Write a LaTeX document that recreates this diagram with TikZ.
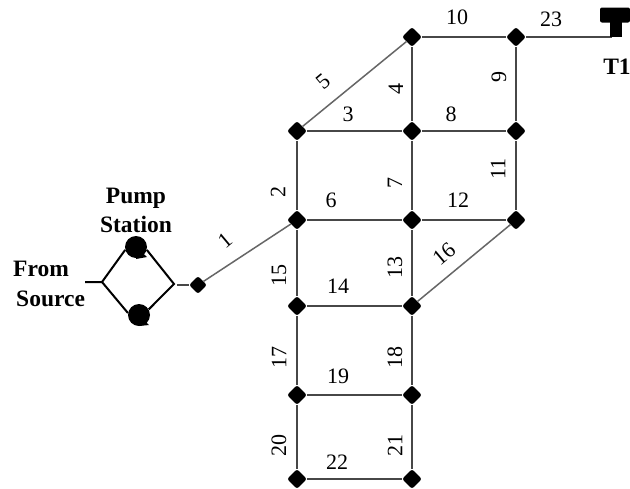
\documentclass[tikz,border=0pt]{standalone}
\usepackage{fontspec}
\setmainfont{Liberation Serif}
\usetikzlibrary{calc,shapes.geometric}
\tikzset{
 junction/.style={diamond,fill=black,inner sep=0pt,minimum size=20pt,rounded corners=2.5pt},
 pipe/.style={draw=black!72,line width=2pt},
 thinpipe/.style={draw=black!60,line width=1.5pt},
 pumpline/.style={draw=black,line width=2pt},
 lab/.style={font=\fontsize{22}{22}\selectfont,inner sep=0pt},
 vlab/.style={lab,rotate=90},
 blab/.style={font=\bfseries\fontsize{23.5}{29}\selectfont,inner sep=0pt,align=center},
 pumpdot/.style={circle,fill=black,inner sep=0pt,minimum size=22pt}
}
\begin{document}
\begin{tikzpicture}[x=1pt,y=-1pt]
\useasboundingbox (0,0) rectangle (630,488);
\fill[white] (0,0) rectangle (630,488);
% junctions
\foreach \n/\x/\y in {b/297/220,c/297/131,d/412/37,e/516/37,f/412/131,g/516/131,h/412/220,i/516/220,j/297/306,k/412/306,l/297/395,m/412/395,n/297/479,o/412/479}
  \node[junction] (\n) at (\x,\y) {};
\node[junction,minimum size=18pt] (a) at (198,285) {};
\coordinate (tankfoot) at (612,37);
% pipes
\draw[thinpipe] (a)--(b) (c)--(d) (k)--(i);
\draw[pipe] (d)--(e) (e)--(tankfoot) (e)--(g) (d)--(f) (c)--(f) (f)--(g) (g)--(i)
  (c)--(b) (b)--(h) (h)--(i) (f)--(h) (h)--(k) (b)--(j) (j)--(k) (j)--(l) (k)--(m) (l)--(m) (l)--(n) (m)--(o) (n)--(o);
% pump station
\coordinate (pl) at (102,282);
\coordinate (pr) at (174,284);
\coordinate (ps) at (85,282);
\coordinate (pe) at (177,285);
\node[pumpdot] (p1) at (136,247) {};
\node[pumpdot] (p2) at (139,315) {};
\fill (p1.center) -- ++(11,10) -- ++(-11,2) -- cycle;
\fill (p2.center) -- ++(10,10) -- ++(-10,1) -- cycle;
\draw[pumpline,line join=miter] (ps)--(pl) (p1.195)--(pl)--(p2.170) (p1.-15)--(pr)--(p2.30);
\draw[pipe,line width=1.6pt] (pe)--(a);
% tank
\node[fill=black,rounded corners=2pt,minimum width=30pt,minimum height=15pt,inner sep=0pt] (tanktop) at (615,15) {};
\node[fill=black,minimum width=12pt,minimum height=16pt,inner sep=0pt] (tankstem) at (616,29) {};
% labels
\node[lab] (l1) at (225,240) [rotate=40] {1};
\node[vlab] (l2) at (278,192) {2};
\node[lab] (l3) at (348,114) {3};
\node[vlab] (l4) at (396,89) {4};
\node[lab] (l5) at (323,82) [rotate=40] {5};
\node[lab] (l6) at (331,200) {6};
\node[vlab] (l7) at (395,183) {7};
\node[lab] (l8) at (451,114) {8};
\node[vlab] (l9) at (499,77) {9};
\node[lab] (l10) at (457,17) {10};
\node[vlab] (l11) at (498,169) {11};
\node[lab] (l12) at (458,200) {12};
\node[vlab] (l13) at (395,267) {13};
\node[lab] (l14) at (338,286) {14};
\node[vlab] (l15) at (279,275) {15};
\node[lab] (l16) at (444,254) [rotate=40] {16};
\node[vlab] (l17) at (279,357) {17};
\node[vlab] (l18) at (395,357) {18};
\node[lab] (l19) at (338,376) {19};
\node[vlab] (l20) at (279,445) {20};
\node[vlab] (l21) at (395,445) {21};
\node[lab] (l22) at (337,462) {22};
\node[lab] (l23) at (551,19) {23};
\node[blab] (t1) at (617,67) {T1};
\node[blab] (ps1) at (136,210) {Pump\\Station};
\node[blab,align=left,anchor=west] (fs) at (16,284) {\hspace*{-3pt}From\\[1pt]Source};
\end{tikzpicture}
\end{document}
